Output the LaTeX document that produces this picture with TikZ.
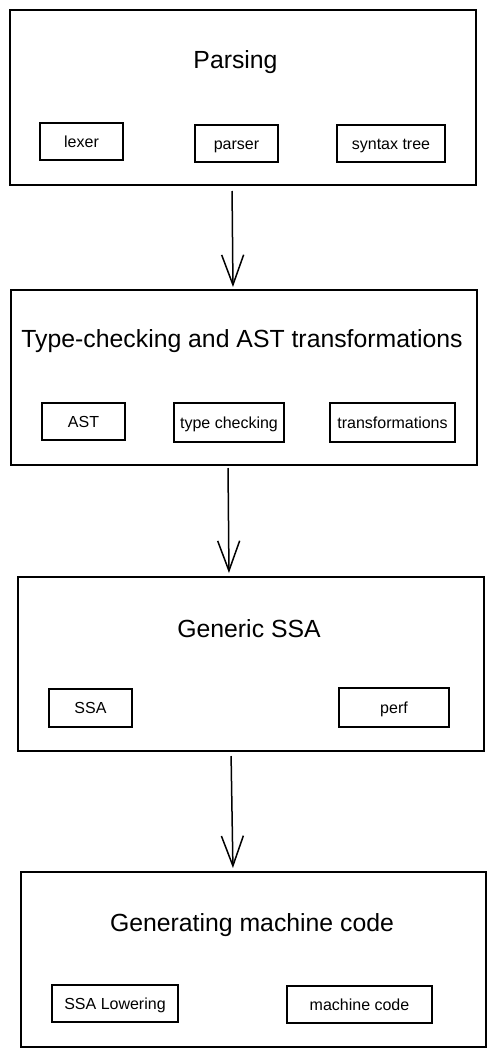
\documentclass[tikz,border=0pt]{standalone}
\usepackage{fontspec}
\setmainfont{Liberation Sans}
\usetikzlibrary{arrows.meta}
\tikzset{
  stage/.style={draw, line width=2pt, outer sep=0pt, minimum width=466pt, minimum height=175pt},
  part/.style={draw, line width=1.5pt, outer sep=0pt, minimum height=38pt, inner sep=0pt,
    text height=11.5pt, text depth=0pt, font=\fontsize{16pt}{18pt}\selectfont},
  stagetitle/.style={anchor=base, inner sep=0pt, font=\fontsize{24.8pt}{28pt}\selectfont},
}
\begin{document}
\begin{tikzpicture}[x=1pt, y=-1pt]
      \useasboundingbox (0,0) rectangle (496,1057);
      \draw
        (242.5,97.5) node[stage] (parsing){}
        (244,377.5) node[stage] (typecheck){}
        (250.5,664) node[stage, minimum height=174pt] (ssa){}
        (253.5,959.5) node[stage, minimum width=465pt] (codegen){};
      \draw
        (235.5,69) node[stagetitle] (parsingtitle){Parsing}
        (242,347) node[stagetitle] (typechecktitle){Type-checking and AST transformations}
        (249,637) node[stagetitle] (ssatitle){Generic SSA}
        (252,931) node[stagetitle] (codegentitle){Generating machine code};
      \draw
        (81.5,141.5) node[part, minimum width=83pt, minimum height=37pt] (lexer){lexer}
        (236.5,143.5) node[part, minimum width=83pt, minimum height=37pt] (parser){parser}
        (391,143.5) node[part, minimum width=108pt, minimum height=37pt] (tree){syntax tree}
        (83.5,421.5) node[part, minimum width=83pt, minimum height=37pt] (ast){AST}
        (229,422.5) node[part, minimum width=110pt, minimum height=39pt] (check){type checking}
        (392.5,422.5) node[part, minimum width=125pt, minimum height=39pt] (trans){transformations}
        (90.5,708) node[part, minimum width=83pt] (ssaform){SSA}
        (394,707.5) node[part, minimum width=110pt, minimum height=39pt] (perf){perf}
        (115,1003.5) node[part, minimum width=126pt, minimum height=37pt] (lower){SSA Lowering}
        (359.5,1004.5) node[part, minimum width=145pt, minimum height=37pt] (mcode){machine code};
      \begin{scope}[-{Straight Barb[length=30pt, width=22pt]}, line width=1.5pt]
        \draw[shorten <=6pt, shorten >=3pt] ([xshift=-10.5pt]parsing.south) to ([xshift=-11pt]typecheck.north);
        \draw[shorten <=3pt, shorten >=4pt] ([xshift=-16pt]typecheck.south) to ([xshift=-21.5pt]ssa.north);
        \draw[shorten <=5pt, shorten >=4pt] ([xshift=-19.5pt]ssa.south) to ([xshift=-20.5pt]codegen.north);
      \end{scope}
    \end{tikzpicture}
\end{document}
